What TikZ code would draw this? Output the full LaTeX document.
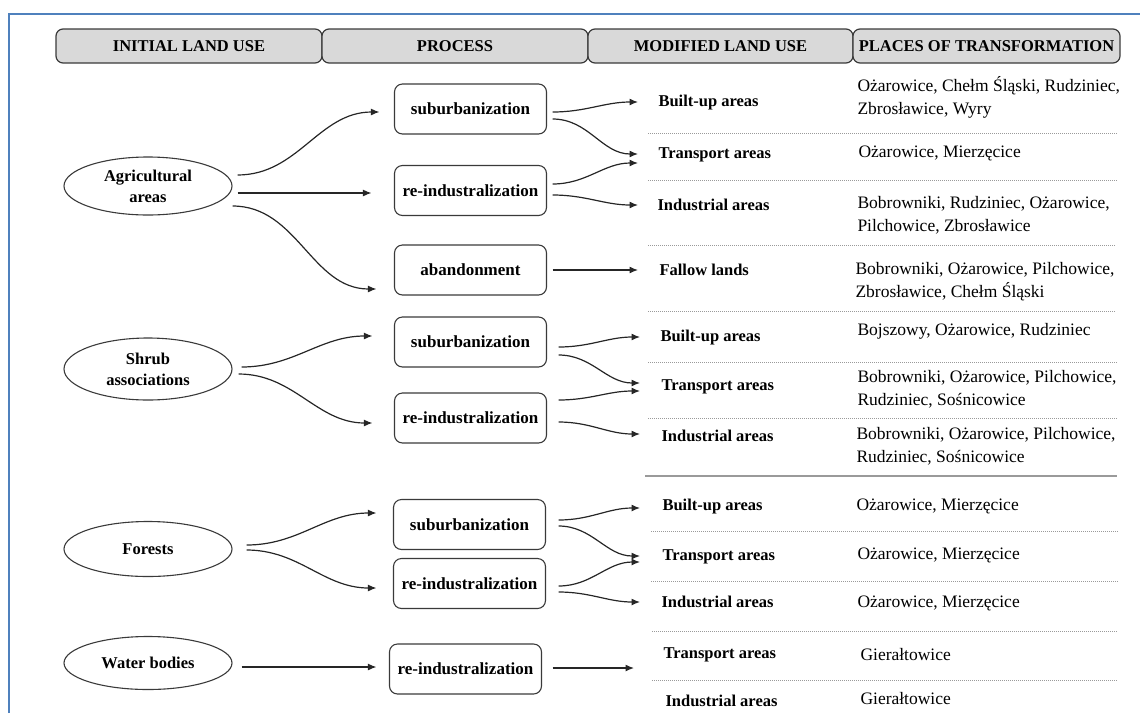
\documentclass[tikz,border=0pt]{standalone}
\usepackage{fontspec}
\setmainfont{Liberation Serif}
\usetikzlibrary{arrows.meta,shapes.geometric}
\definecolor{frameblue}{HTML}{4F81BD}
\definecolor{headgray}{HTML}{D9D9D9}
\definecolor{edgegray}{HTML}{3A3A3A}
\definecolor{dotgray}{HTML}{9A9A9A}

\begin{document}
\begin{tikzpicture}[x=1pt, y=-1pt, line width=1pt,
    header/.style={draw=edgegray, fill=headgray, rounded corners=7pt, line width=1.2pt, minimum height=34pt, inner sep=0pt, font=\fontsize{16.5}{19}\selectfont\bfseries},
    landcover/.style={ellipse, draw=edgegray, line width=1.1pt, minimum width=168pt, inner sep=0pt, align=center, font=\fontsize{16.5}{21}\selectfont\bfseries},
    procbox/.style={draw=edgegray, rounded corners=8pt, line width=1.1pt, minimum width=152pt, minimum height=50pt, inner sep=0pt, font=\fontsize{17}{20}\selectfont\bfseries},
    landuse/.style={anchor=west, inner sep=0pt, font=\fontsize{16.5}{20}\selectfont\bfseries},
    place/.style={anchor=west, inner sep=0pt, align=left, font=\fontsize{17.5}{23}\selectfont},
    flow/.style={-{Latex[length=8.5pt,width=7pt]}, draw=black!85, line width=1.2pt},
    sepline/.style={dotgray, line width=1pt, dash pattern=on 1pt off 1pt}]
    \useasboundingbox (0,0) rectangle (1140,713);
    \draw[frameblue, line width=2pt] (9,713) -- (9,14) -- (1140,14);

    \node[header, minimum width=266pt](HdInit) at (189,46) {INITIAL LAND USE};
    \node[header, minimum width=266pt](HdProc) at (455,46) {PROCESS};
    \node[header, minimum width=265pt](HdMod) at (720.5,46) {MODIFIED LAND USE};
    \node[header, minimum width=267pt](HdPlace) at (986.5,46) {PLACES OF TRANSFORMATION};

    \node[landcover, minimum height=58pt](AgriAreas) at (148,186) {Agricultural\\areas};
    \node[landcover, minimum height=62pt](ShrubAssoc) at (148,369) {Shrub\\associations};
    \node[landcover, minimum height=55pt](ForestsE) at (148,549) {Forests};
    \node[landcover, minimum height=53pt](WaterB) at (148,663) {Water bodies};

    \node[procbox](AgriSub) at (470.5,109) {suburbanization};
    \node[procbox](AgriReind) at (470.5,190.5) {re-industralization};
    \node[procbox](AgriAband) at (470.5,270) {abandonment};
    \node[procbox](ShrubSub) at (470.5,342) {suburbanization};
    \node[procbox](ShrubReind) at (470.5,418) {re-industralization};
    \node[procbox](ForestSub) at (469.5,524.5) {suburbanization};
    \node[procbox](ForestReind) at (469.5,583.5) {re-industralization};
    \node[procbox](WaterReind) at (465.5,669) {re-industralization};

    \draw[flow] ([shift={(5pt,11pt)}]AgriAreas.east) to[out=0,in=180] ([shift={(-14.5pt,-3pt)}]AgriSub.west);
    \draw[flow] ([shift={(5pt,-7pt)}]AgriAreas.east) -- ([shift={(-22.5pt,-2.5pt)}]AgriReind.west);
    \draw[flow] ([shift={(0pt,-20pt)}]AgriAreas.east) to[out=0,in=180] ([shift={(-17.5pt,-19pt)}]AgriAband.west);
    \draw[flow] ([shift={(9pt,2pt)}]ShrubAssoc.east) to[out=0,in=180] ([shift={(-21.5pt,6pt)}]ShrubSub.west);
    \draw[flow] ([shift={(6pt,-5pt)}]ShrubAssoc.east) to[out=0,in=180] ([shift={(-21.5pt,-5pt)}]ShrubReind.west);
    \draw[flow] ([shift={(14pt,4pt)}]ForestsE.east) to[out=0,in=180] ([shift={(-16.5pt,11.5pt)}]ForestSub.west);
    \draw[flow] ([shift={(14pt,-1pt)}]ForestsE.east) to[out=0,in=180] ([shift={(-16.5pt,-4.5pt)}]ForestReind.west);
    \draw[flow] ([shift={(9pt,-4pt)}]WaterB.east) -- ([shift={(-12.5pt,2pt)}]WaterReind.west);

    \node[landuse](BuiltUpA) at (658,103) {Built-up areas};
    \node[landuse](TransportA) at (658,155) {Transport areas};
    \node[landuse](IndustrialA) at (657,205) {Industrial areas};
    \node[landuse](FallowA) at (659,270) {Fallow lands};
    \node[landuse](BuiltUpS) at (660,338) {Built-up areas};
    \node[landuse](TransportS) at (661,387) {Transport areas};
    \node[landuse](IndustrialS) at (661,436) {Industrial areas};
    \node[landuse](BuiltUpF) at (662,507) {Built-up areas};
    \node[landuse](TransportF) at (662,557) {Transport areas};
    \node[landuse](IndustrialF) at (661,602) {Industrial areas};
    \node[landuse](TransportW) at (663,655) {Transport areas};
    \node[landuse](IndustrialW) at (665,701) {Industrial areas};

    \draw[flow] ([shift={(5.5pt,-3pt)}]AgriSub.east) to[out=0,in=180] ([shift={(-20pt,1pt)}]BuiltUpA.west);
    \draw[flow] ([shift={(5.5pt,-10pt)}]AgriSub.east) to[out=0,in=180] ([shift={(-20pt,1pt)}]TransportA.west);
    \draw[flow] ([shift={(5.5pt,6.5pt)}]AgriReind.east) to[out=0,in=180] ([shift={(-20pt,-8pt)}]TransportA.west);
    \draw[flow] ([shift={(5.5pt,-4.5pt)}]AgriReind.east) to[out=0,in=180] ([shift={(-19pt,0pt)}]IndustrialA.west);
    \draw[flow] ([shift={(5.5pt,0pt)}]AgriAband.east) -- ([shift={(-21pt,0pt)}]FallowA.west);
    \draw[flow] ([shift={(11.5pt,-5pt)}]ShrubSub.east) to[out=0,in=180] ([shift={(-20pt,1pt)}]BuiltUpS.west);
    \draw[flow] ([shift={(11.5pt,-13pt)}]ShrubSub.east) to[out=0,in=180] ([shift={(-21pt,4pt)}]TransportS.west);
    \draw[flow] ([shift={(11.5pt,18pt)}]ShrubReind.east) to[out=0,in=180] ([shift={(-21pt,-4pt)}]TransportS.west);
    \draw[flow] ([shift={(11.5pt,-4pt)}]ShrubReind.east) to[out=0,in=180] ([shift={(-21pt,2pt)}]IndustrialS.west);
    \draw[flow] ([shift={(12.5pt,4.5pt)}]ForestSub.east) to[out=0,in=180] ([shift={(-22pt,-1pt)}]BuiltUpF.west);
    \draw[flow] ([shift={(12.5pt,-1.5pt)}]ForestSub.east) to[out=0,in=180] ([shift={(-22pt,1pt)}]TransportF.west);
    \draw[flow] ([shift={(12.5pt,-2.5pt)}]ForestReind.east) to[out=0,in=180] ([shift={(-22pt,-5pt)}]TransportF.west);
    \draw[flow] ([shift={(12.5pt,-8.5pt)}]ForestReind.east) to[out=0,in=180] ([shift={(-21pt,0pt)}]IndustrialF.west);
    \draw[flow] ([shift={(10.5pt,1pt)}]WaterReind.east) -- ([shift={(-29pt,-13pt)}]TransportW.west);

    \node[place](PlBuiltUpA) at (857,97) {Ożarowice, Chełm Śląski, Rudziniec,\\Zbrosławice, Wyry};
    \node[place](PlTransportA) at (858,153) {Ożarowice, Mierzęcice};
    \node[place](PlIndustrialA) at (857,215) {Bobrowniki, Rudziniec, Ożarowice,\\Pilchowice, Zbrosławice};
    \node[place](PlFallowA) at (855,282) {Bobrowniki, Ożarowice, Pilchowice,\\Zbrosławice, Chełm Śląski};
    \node[place](PlBuiltUpS) at (857,331) {Bojszowy, Ożarowice, Rudziniec};
    \node[place](PlTransportS) at (857,389) {Bobrowniki, Ożarowice, Pilchowice,\\Rudziniec, Sośnicowice};
    \node[place](PlIndustrialS) at (856,446) {Bobrowniki, Ożarowice, Pilchowice,\\Rudziniec, Sośnicowice};
    \node[place](PlBuiltUpF) at (856,506) {Ożarowice, Mierzęcice};
    \node[place](PlTransportF) at (857,555) {Ożarowice, Mierzęcice};
    \node[place](PlIndustrialF) at (857,603) {Ożarowice, Mierzęcice};
    \node[place](PlTransportW) at (860,655) {Gierałtowice};
    \node[place](PlIndustrialW) at (860,699) {Gierałtowice};

    \draw[sepline] (648,133) -- (1118,133);
    \draw[sepline] (648,180) -- (1118,180);
    \draw[sepline] (648,245) -- (1116,245);
    \draw[sepline] (648,311) -- (1116,311);
    \draw[sepline] (648,362) -- (1118,362);
    \draw[sepline] (648,418) -- (1118,418);
    \draw[dotgray, line width=1.4pt] (645,476) -- (1117,476);
    \draw[sepline] (651,531) -- (1118,531);
    \draw[sepline] (651,581) -- (1118,581);
    \draw[sepline] (652,631) -- (1118,631);
    \draw[sepline] (652,680) -- (1118,680);
\end{tikzpicture}
\end{document}
